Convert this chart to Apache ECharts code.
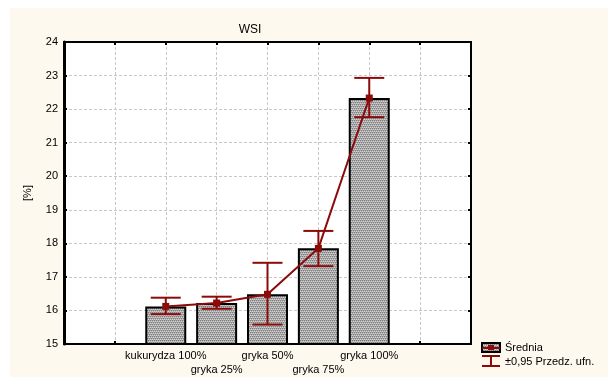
<!DOCTYPE html>
<html>
<head>
<meta charset="utf-8">
<script src="https://cdn.jsdelivr.net/npm/echarts@6/dist/echarts.min.js"></script>
<style>
  html, body { margin: 0; padding: 0; background: #ffffff; }
  #chart { width: 608px; height: 379px; }
</style>
</head>
<body>
<div id="chart"></div>
<script>
// WSI by flour blend: mean with 95% confidence interval
const categories = ['kukurydza 100%', 'gryka 25%', 'gryka 50%', 'gryka 75%', 'gryka 100%'];
const means = [16.12, 16.22, 16.48, 17.85, 22.33];
const ciLow = [15.89, 16.05, 15.58, 17.32, 21.76];
const ciHigh = [16.38, 16.41, 17.42, 18.37, 22.93];
const yTicks = [15, 16, 17, 18, 19, 20, 21, 22, 23, 24];

const RED = '#8b0a0a';
const FONT = 'Liberation Sans, Arial, sans-serif';

// two empty slots on each side of the five groups
const slots = ['', '', ...categories, '', ''];

// dotted grey fill used inside the bars
function makePattern() {
  const c = document.createElement('canvas');
  c.width = 4; c.height = 4;
  const g = c.getContext('2d');
  g.fillStyle = '#ababab';
  g.fillRect(0, 0, 4, 4);
  g.fillStyle = '#7c7c7c';
  g.fillRect(0, 0, 1, 1); g.fillRect(2, 0, 1, 1);
  g.fillRect(1, 2, 1, 1); g.fillRect(3, 2, 1, 1);
  g.fillStyle = '#d2d2d2';
  g.fillRect(1, 1, 1, 1); g.fillRect(3, 1, 1, 1);
  g.fillRect(0, 3, 1, 1); g.fillRect(2, 3, 1, 1);
  return c;
}
const pattern = makePattern();

const chart = echarts.init(document.getElementById('chart'), null, { renderer: 'canvas' });

const gridLeft = 64, gridTop = 42, gridRight = 137, gridBottom = 35;

chart.setOption({
  animation: false,
  backgroundColor: 'transparent',
  textStyle: { fontFamily: FONT },
  title: {
    text: 'WSI',
    left: 245, top: 19,
    textAlign: 'center',
    textStyle: { fontSize: 12, fontWeight: 'normal', color: '#000', fontFamily: FONT }
  },
  graphic: [
    { type: 'rect', z: -10, silent: true, shape: { x: 10, y: 8, width: 598, height: 369 }, style: { fill: '#fdf9ee' } },
    // legend: bar swatch with mean marker
    { type: 'rect', z: 10, shape: { x: 482, y: 343, width: 18, height: 9 }, style: { fill: { image: pattern, repeat: 'repeat' }, stroke: '#000', lineWidth: 2 } },
    { type: 'line', z: 11, shape: { x1: 482, y1: 348, x2: 500, y2: 348 }, style: { stroke: RED, lineWidth: 2 } },
    { type: 'rect', z: 12, shape: { x: 488, y: 345, width: 6, height: 5 }, style: { fill: RED } },
    { type: 'text', z: 10, left: 505, top: 342, style: { text: 'Średnia', fontSize: 11, fontFamily: FONT, fill: '#000' } },
    // legend: confidence interval whisker
    { type: 'line', z: 10, shape: { x1: 482, y1: 356, x2: 500, y2: 356 }, style: { stroke: RED, lineWidth: 2 } },
    { type: 'line', z: 10, shape: { x1: 491, y1: 356, x2: 491, y2: 366 }, style: { stroke: RED, lineWidth: 2 } },
    { type: 'line', z: 10, shape: { x1: 482, y1: 366, x2: 500, y2: 366 }, style: { stroke: RED, lineWidth: 2 } },
    { type: 'text', z: 10, left: 505, top: 356, style: { text: '±0,95 Przedz. ufn.', fontSize: 11, fontFamily: FONT, fill: '#000' } }
  ],
  grid: {
    left: gridLeft, top: gridTop, right: gridRight, bottom: gridBottom,
    show: true, backgroundColor: '#ffffff', borderColor: '#000', borderWidth: 2
  },
  xAxis: [
    {
      type: 'category', data: slots, boundaryGap: false,
      axisLine: { show: true, lineStyle: { color: '#000', width: 2 } },
      axisTick: { show: true, inside: true, length: 3, interval: 0, lineStyle: { color: '#000', width: 2 } },
      axisLabel: {
        interval: 0, color: '#000', fontSize: 11, fontFamily: FONT, margin: 5, lineHeight: 14,
        formatter: (v, i) => (i % 2 === 0 ? v : '\n' + v)
      },
      splitLine: { show: true, interval: 0, lineStyle: { color: '#c8c8c8', type: [3, 2], width: 1 } }
    },
    {
      type: 'category', data: slots, boundaryGap: false, position: 'top',
      axisLine: { show: true, lineStyle: { color: '#000', width: 2 } },
      axisTick: { show: true, inside: true, length: 3, interval: 0, lineStyle: { color: '#000', width: 2 } },
      axisLabel: { show: false }, splitLine: { show: false }
    }
  ],
  yAxis: [
    {
      type: 'value', min: yTicks[0], max: yTicks[yTicks.length - 1], interval: 1,
      name: '[%]', nameLocation: 'middle', nameGap: 31, nameRotate: 90,
      nameTextStyle: { color: '#000', fontSize: 11, fontFamily: FONT },
      axisLine: { show: true, lineStyle: { color: '#000', width: 3 } },
      axisTick: { show: true, inside: true, length: 3, lineStyle: { color: '#000', width: 2 } },
      axisLabel: { color: '#000', fontSize: 11, fontFamily: FONT, margin: 6 },
      splitLine: { show: true, lineStyle: { color: '#c8c8c8', type: [3, 2], width: 1 } }
    },
    {
      type: 'value', min: yTicks[0], max: yTicks[yTicks.length - 1], interval: 1, position: 'right',
      axisLine: { show: true, lineStyle: { color: '#000', width: 2 } },
      axisTick: { show: true, inside: true, length: 3, lineStyle: { color: '#000', width: 2 } },
      axisLabel: { show: false }, splitLine: { show: false }
    }
  ],
  series: [
    {
      name: 'Średnia', type: 'bar', barWidth: 41, z: 2,
      data: categories.map((c, i) => [c, means[i]]),
      itemStyle: { color: { image: pattern, repeat: 'repeat' }, borderColor: '#000', borderWidth: 2 }
    },
    {
      name: '±0,95 Przedz. ufn.', type: 'custom', z: 4,
      data: categories.map((c, i) => [i + 2, ciLow[i], ciHigh[i]]),
      renderItem: function (params, api) {
        const x = api.value(0);
        const lo = api.coord([x, api.value(1)]);
        const hi = api.coord([x, api.value(2)]);
        const half = 15;
        const st = { stroke: RED, lineWidth: 2, fill: null };
        return {
          type: 'group',
          children: [
            { type: 'line', shape: { x1: hi[0], y1: hi[1], x2: lo[0], y2: lo[1] }, style: st },
            { type: 'line', shape: { x1: hi[0] - half, y1: hi[1], x2: hi[0] + half, y2: hi[1] }, style: st },
            { type: 'line', shape: { x1: lo[0] - half, y1: lo[1], x2: lo[0] + half, y2: lo[1] }, style: st }
          ]
        };
      }
    },
    {
      name: 'mean line', type: 'line', z: 5, smooth: false,
      data: categories.map((c, i) => [c, means[i]]),
      symbol: 'rect', symbolSize: 7,
      lineStyle: { color: RED, width: 2 },
      itemStyle: { color: RED }
    }
  ]
});
</script>
</body>
</html>
